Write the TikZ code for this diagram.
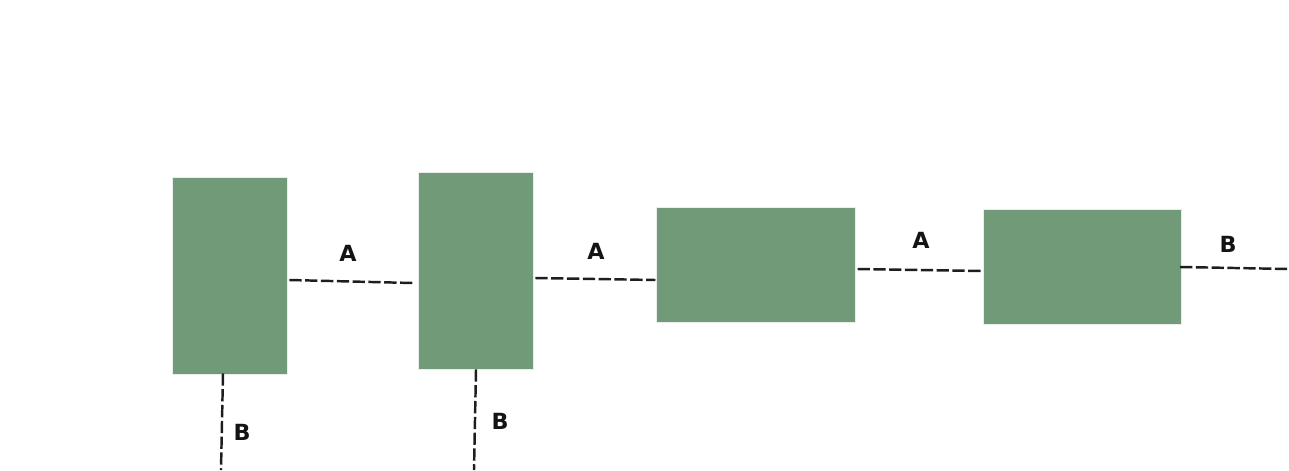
\documentclass[tikz,border=0pt]{standalone}
\usepackage{fontspec}
\setmainfont{DejaVu Sans}
\usetikzlibrary{positioning,calc}
\definecolor{blokgreen}{RGB}{112,154,120}
\definecolor{linegray}{RGB}{30,30,30}

\begin{document}
\begin{tikzpicture}[x=0.03cm, y=-0.03cm, line cap=butt, line join=round,
		blok/.style={rectangle, draw=white!85!gray, line width=0.6pt, fill=blokgreen, inner sep=0pt},
		tall/.style={blok, minimum width=3.45cm, minimum height=5.91cm},
		wide/.style={blok, minimum width=5.95cm, minimum height=3.45cm},
		link/.style={draw=linegray, line width=2.1pt, dash pattern=on 10.5pt off 3pt},
		lbl/.style={font=\fontsize{19}{21}\selectfont\bfseries, text=black!92, inner sep=0pt}]
	% ---- khung ảnh ----
	\useasboundingbox (0,0) rectangle (1289,470);
	
	% ---- các khối ----
	\node[tall] (b1) at (229.5,275.5) {};
	\node[tall] (b2) at (475.5,270.5) {};
	\node[wide] (b3) at (756,264.5)   {};
	\node[wide] (b4) at (1082.5,266.5){};
	
	% ---- điểm cuối tự do ----
	\coordinate (out4) at (1289,269);
	\coordinate (out1) at (221,470);
	\coordinate (out2) at (474,470);
	
	% ---- các đường nối ----
	\draw[link] ($(b1.east)+(2,4.5)$)   -- ($(b2.west)+(-5,12.5)$);
	\draw[link] ($(b2.east)+(2,7.5)$)   -- ($(b3.west)+(-1,15.5)$);
	\draw[link] ($(b3.east)+(2,4.5)$)   -- ($(b4.west)+(-1,4.5)$);
	\draw[link] ($(b4.east)+(-2,0.5)$)  -- (out4);
	\draw[link] ($(b1.south)+(-6.5,-1)$) -- (out1);
	\draw[link] ($(b2.south)+(0.5,0)$)  -- (out2);
	
	% ---- nhãn ----
	\node[lbl] (la1) at (348,253)  {A};
	\node[lbl] (la2) at (596,251)  {A};
	\node[lbl] (la3) at (921,240)  {A};
	\node[lbl] (lb4) at (1228,244) {B};
	\node[lbl] (lb1) at (242,432)  {B};
	\node[lbl] (lb2) at (500,421)  {B};
\end{tikzpicture}
\end{document}
